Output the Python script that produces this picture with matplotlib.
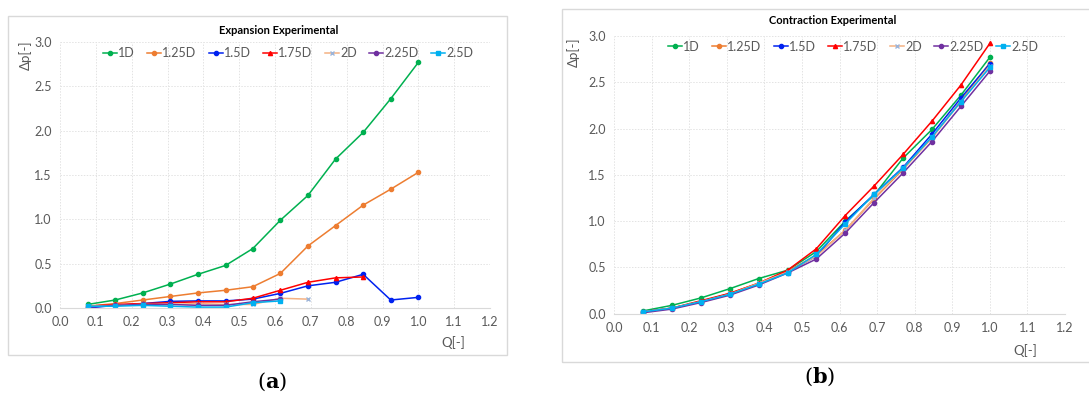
import matplotlib
matplotlib.use("Agg")
import matplotlib.pyplot as plt
from matplotlib.patches import Rectangle

plt.rcParams['font.family'] = ['Lato', 'DejaVu Sans']

# Flow rate (dimensionless)
q = [0.077, 0.154, 0.231, 0.308, 0.385, 0.462, 0.538, 0.615, 0.692, 0.769, 0.846, 0.923, 1.0]

series_names = ["1D", "1.25D", "1.5D", "1.75D", "2D", "2.25D", "2.5D"]

# Expansion: pressure drop per series
exp_1d = [0.04, 0.09, 0.17, 0.27, 0.38, 0.48, 0.67, 0.99, 1.27, 1.68, 1.98, 2.36, 2.77]
exp_125d = [0.02, 0.05, 0.09, 0.13, 0.17, 0.20, 0.24, 0.39, 0.70, 0.93, 1.16, 1.34, 1.53]
exp_15d = [0.00, 0.03, 0.05, 0.075, 0.08, 0.08, 0.10, 0.165, 0.25, 0.29, 0.38, 0.09, 0.12]
exp_175d = [0.02, 0.04, 0.05, 0.06, 0.07, 0.07, 0.11, 0.20, 0.29, 0.34, 0.35]
exp_2d = [0.02, 0.03, 0.04, 0.04, 0.05, 0.04, 0.04, 0.11, 0.10]
exp_225d = [0.01, 0.03, 0.04, 0.04, 0.03, 0.03, 0.07, 0.10]
exp_25d = [0.02, 0.02, 0.03, 0.02, 0.01, 0.01, 0.06, 0.08]

# Contraction: pressure drop per series
con_1d = [0.03, 0.09, 0.17, 0.27, 0.38, 0.47, 0.67, 1.00, 1.28, 1.68, 1.99, 2.36, 2.77]
con_125d = [0.02, 0.06, 0.13, 0.22, 0.33, 0.46, 0.63, 0.90, 1.24, 1.56, 1.90, 2.30, 2.71]
con_15d = [0.02, 0.06, 0.13, 0.21, 0.32, 0.45, 0.62, 0.99, 1.29, 1.58, 1.94, 2.33, 2.70]
con_175d = [0.02, 0.06, 0.14, 0.22, 0.33, 0.47, 0.70, 1.06, 1.38, 1.72, 2.08, 2.47, 2.92]
con_2d = [0.02, 0.06, 0.13, 0.21, 0.33, 0.45, 0.62, 0.90, 1.25, 1.57, 1.90, 2.29, 2.68]
con_225d = [0.01, 0.05, 0.12, 0.20, 0.31, 0.44, 0.59, 0.87, 1.20, 1.52, 1.86, 2.24, 2.62]
con_25d = [0.02, 0.06, 0.13, 0.21, 0.32, 0.44, 0.64, 0.97, 1.29, 1.57, 1.91, 2.29, 2.66]

x_ticks = [0.0, 0.1, 0.2, 0.3, 0.4, 0.5, 0.6, 0.7, 0.8, 0.9, 1.0, 1.1, 1.2]
y_ticks = [0.0, 0.5, 1.0, 1.5, 2.0, 2.5, 3.0]

styles = [
    dict(color="#00B050", marker="o", ms=3),
    dict(color="#ED7D31", marker="o", ms=3),
    dict(color="#0022F0", marker="o", ms=3),
    dict(color="#FF0000", marker="^", ms=3),
    dict(color="#F4B183", marker="x", ms=3.5, mec="#9DB4D8", mew=1.0),
    dict(color="#7030A0", marker="o", ms=3),
    dict(color="#00B0F0", marker="s", ms=3.5),
]

grey_text = "#595959"

fig = plt.figure(figsize=(10.89, 3.96), dpi=100)
W, H = 1089, 396


def px_axes(left, top, right, bottom):
    return fig.add_axes([left / W, 1 - bottom / H, (right - left) / W, (bottom - top) / H])


def frame_box(left, top, right, bottom):
    fig.patches.append(Rectangle((left / W, 1 - bottom / H), (right - left) / W, (bottom - top) / H,
                                 transform=fig.transFigure, fill=False, ec="#D9D9D9", lw=1.0, zorder=0))


def style_axes(ax, legend_x, legend_y):
    ax.set_xlim(0, 1.2)
    ax.set_ylim(0, 3.0)
    ax.set_xticks(x_ticks)
    ax.set_yticks(y_ticks)
    ax.set_xticklabels([f"{t:.1f}" for t in x_ticks])
    ax.set_yticklabels([f"{t:.1f}" for t in y_ticks])
    ax.tick_params(length=0, labelsize=9, labelcolor=grey_text, pad=6)
    ax.grid(True, color="#E3E3E3", linestyle=(0, (1.5, 1.5)), lw=0.7)
    for s in ["top", "right", "left"]:
        ax.spines[s].set_visible(False)
    ax.spines["bottom"].set_color("#D9D9D9")
    ax.set_axisbelow(True)
    leg = ax.legend(ncol=7, loc="center", bbox_to_anchor=(legend_x, legend_y), frameon=False,
                    fontsize=9, handlelength=1.1, handletextpad=0.1, columnspacing=1.0,
                    borderaxespad=0)
    for t in leg.get_texts():
        t.set_color(grey_text)


# Expansion panel
frame_box(8, 16, 507, 355)
ax1 = px_axes(60, 42, 490, 308)
exp_data = [exp_1d, exp_125d, exp_15d, exp_175d, exp_2d, exp_225d, exp_25d]
for name, vals, st in zip(series_names, exp_data, styles):
    ax1.plot(q[:len(vals)], vals, lw=1.1, label=name, **st)
style_axes(ax1, 0.53, 0.958)
fig.text(279 / W, 1 - 30 / H, "Expansion Experimental", ha="center", va="center",
         fontsize=8, fontweight="bold", color="black")
fig.text(25 / W, 1 - 55 / H, "Δp[-]", rotation=90, ha="center", va="center",
         fontsize=9.5, color=grey_text)
fig.text(453 / W, 1 - 343 / H, "Q[-]", ha="center", va="center", fontsize=9.5, color=grey_text)

# Contraction panel
frame_box(562, 9, 1100, 362)
ax2 = px_axes(614, 36, 1065, 313.7)
con_data = [con_1d, con_125d, con_15d, con_175d, con_2d, con_225d, con_25d]
for name, vals, st in zip(series_names, con_data, styles):
    ax2.plot(q[:len(vals)], vals, lw=1.1, label=name, **st)
style_axes(ax2, 0.53, 0.962)
fig.text(833 / W, 1 - 21 / H, "Contraction Experimental", ha="center", va="center",
         fontsize=8, fontweight="bold", color="black")
fig.text(573 / W, 1 - 52 / H, "Δp[-]", rotation=90, ha="center", va="center",
         fontsize=9.5, color=grey_text)
fig.text(1025 / W, 1 - 351 / H, "Q[-]", ha="center", va="center", fontsize=9.5, color=grey_text)

# Panel labels
for xp, yp, letter in [(272, 382, "a"), (820, 377, "b")]:
    fig.text(xp / W, 1 - yp / H, "(" + r"$\mathbf{" + letter + "}$" + ")", ha="center", va="center",
             fontsize=15, family="DejaVu Serif", math_fontfamily="dejavuserif")

fig.savefig("out.png", dpi=100)
